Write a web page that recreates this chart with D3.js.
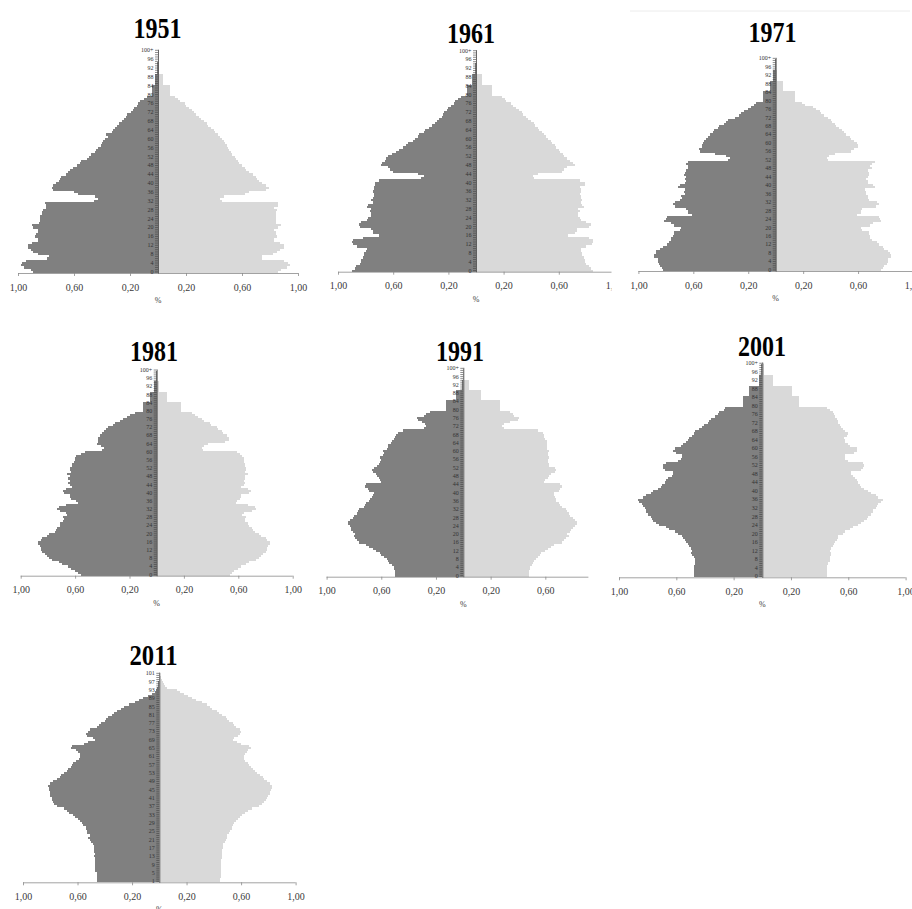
<!DOCTYPE html>
<html>
<head>
<meta charset="utf-8">
<script src="https://d3js.org/d3.v7.min.js"></script>
<style>
  body { margin: 0; background: #fff; }
  svg { display: block; }
</style>
</head>
<body>
<div id="chart"></div>
<script>
'use strict';

// age categories, 0..100+ (2011 uses 1..101)
var ages = d3.range(0, 101);
var ageLabels = ages.map(function(a) { return a === 100 ? '100+' : String(a); });
var ageLabels2011 = d3.range(1, 102).map(String);
var xTicks = [-1, -0.6, -0.2, 0.2, 0.6, 1];

// share of total population (%) per single year of age
var male1951 = [
  0.89,0.91,0.96,0.98,0.97,0.94,0.79,0.78,0.86,0.89,
  0.91,0.93,0.93,0.90,0.86,0.86,0.88,0.87,0.86,0.86,
  0.89,0.90,0.85,0.84,0.84,0.84,0.83,0.83,0.82,0.80,
  0.80,0.81,0.46,0.43,0.45,0.57,0.60,0.75,0.76,0.75,
  0.73,0.71,0.70,0.69,0.66,0.64,0.63,0.61,0.58,0.56,
  0.55,0.51,0.49,0.48,0.45,0.44,0.43,0.41,0.40,0.39,
  0.38,0.36,0.37,0.33,0.32,0.31,0.29,0.28,0.26,0.24,
  0.23,0.22,0.19,0.18,0.17,0.15,0.14,0.13,0.10,0.08,
  0.04,0.04,0.04,0.04,0.04,0.02,0.02,0.02,0.02,0.02,
  0.006,0.006,0.006,0.006,0.006,0.002,0.002,0.002,0.002,0.002,
  0.001];
var female1951 = [
  0.86,0.88,0.92,0.94,0.93,0.90,0.74,0.74,0.82,0.85,
  0.87,0.90,0.90,0.87,0.83,0.83,0.85,0.84,0.84,0.83,
  0.86,0.88,0.84,0.84,0.84,0.84,0.84,0.84,0.85,0.83,
  0.86,0.86,0.46,0.44,0.47,0.62,0.65,0.77,0.79,0.77,
  0.74,0.72,0.71,0.70,0.68,0.65,0.63,0.62,0.60,0.58,
  0.57,0.56,0.55,0.53,0.52,0.51,0.50,0.49,0.48,0.47,
  0.46,0.44,0.43,0.41,0.40,0.38,0.36,0.35,0.33,0.31,
  0.29,0.27,0.26,0.24,0.22,0.20,0.19,0.16,0.14,0.12,
  0.085,0.085,0.085,0.085,0.085,0.038,0.038,0.038,0.038,0.038,
  0.008,0.008,0.008,0.008,0.008,0.002,0.002,0.002,0.002,0.002,
  0.001];

var male1961 = [
  0.90,0.88,0.87,0.84,0.83,0.83,0.82,0.81,0.81,0.80,
  0.79,0.86,0.89,0.90,0.89,0.82,0.70,0.75,0.75,0.76,
  0.84,0.85,0.83,0.79,0.78,0.76,0.76,0.77,0.76,0.79,
  0.78,0.75,0.76,0.75,0.74,0.74,0.75,0.74,0.74,0.73,
  0.73,0.70,0.40,0.38,0.42,0.60,0.62,0.64,0.69,0.68,
  0.66,0.65,0.64,0.61,0.58,0.56,0.53,0.51,0.49,0.46,
  0.44,0.42,0.41,0.38,0.37,0.34,0.32,0.30,0.28,0.27,
  0.25,0.24,0.23,0.21,0.20,0.18,0.16,0.15,0.13,0.11,
  0.065,0.065,0.065,0.065,0.065,0.03,0.03,0.03,0.03,0.03,
  0.008,0.008,0.008,0.008,0.008,0.002,0.002,0.002,0.002,0.002,
  0.001];
var female1961 = [
  0.85,0.83,0.82,0.80,0.79,0.79,0.78,0.77,0.77,0.76,
  0.76,0.80,0.84,0.85,0.85,0.82,0.67,0.72,0.73,0.73,
  0.82,0.83,0.80,0.76,0.75,0.74,0.74,0.75,0.74,0.78,
  0.77,0.76,0.77,0.76,0.76,0.75,0.76,0.76,0.75,0.79,
  0.79,0.75,0.42,0.41,0.45,0.62,0.64,0.66,0.72,0.70,
  0.68,0.66,0.64,0.63,0.61,0.60,0.58,0.57,0.55,0.54,
  0.52,0.51,0.49,0.48,0.46,0.45,0.43,0.42,0.40,0.38,
  0.36,0.34,0.33,0.31,0.29,0.27,0.25,0.22,0.21,0.19,
  0.115,0.115,0.115,0.115,0.115,0.045,0.045,0.045,0.045,0.045,
  0.01,0.01,0.01,0.01,0.01,0.002,0.002,0.002,0.002,0.002,
  0.001];

var male1971 = [
  0.82,0.83,0.84,0.85,0.86,0.86,0.89,0.89,0.87,0.87,
  0.84,0.82,0.79,0.78,0.76,0.76,0.75,0.74,0.74,0.70,
  0.69,0.74,0.76,0.81,0.80,0.79,0.61,0.64,0.64,0.65,
  0.73,0.75,0.73,0.70,0.68,0.69,0.66,0.67,0.66,0.71,
  0.70,0.66,0.65,0.66,0.65,0.67,0.66,0.65,0.64,0.64,
  0.65,0.64,0.35,0.33,0.36,0.44,0.55,0.56,0.54,0.54,
  0.53,0.52,0.51,0.49,0.48,0.46,0.45,0.42,0.41,0.38,
  0.36,0.35,0.30,0.27,0.25,0.23,0.20,0.18,0.16,0.14,
  0.09,0.09,0.09,0.09,0.09,0.04,0.04,0.04,0.04,0.04,
  0.018,0.018,0.018,0.018,0.018,0.004,0.004,0.004,0.004,0.004,
  0.001];
var female1971 = [
  0.77,0.78,0.79,0.81,0.82,0.82,0.84,0.84,0.83,0.82,
  0.79,0.78,0.75,0.74,0.70,0.69,0.69,0.68,0.68,0.63,
  0.62,0.69,0.71,0.77,0.76,0.75,0.59,0.62,0.62,0.63,
  0.73,0.75,0.74,0.68,0.67,0.67,0.66,0.66,0.65,0.72,
  0.71,0.67,0.67,0.66,0.67,0.68,0.68,0.67,0.70,0.69,
  0.70,0.72,0.38,0.37,0.39,0.43,0.55,0.57,0.60,0.60,
  0.59,0.57,0.55,0.54,0.51,0.50,0.48,0.46,0.44,0.43,
  0.41,0.40,0.38,0.35,0.33,0.32,0.29,0.27,0.21,0.19,
  0.14,0.14,0.14,0.14,0.14,0.05,0.05,0.05,0.05,0.05,
  0.012,0.012,0.012,0.012,0.012,0.003,0.003,0.003,0.003,0.003,
  0.001];

var male1981 = [
  0.56,0.58,0.60,0.63,0.65,0.70,0.72,0.77,0.79,0.81,
  0.82,0.84,0.85,0.85,0.86,0.87,0.87,0.85,0.84,0.81,
  0.79,0.75,0.74,0.73,0.71,0.71,0.69,0.68,0.69,0.66,
  0.67,0.71,0.73,0.72,0.67,0.58,0.59,0.63,0.64,0.64,
  0.68,0.69,0.67,0.62,0.64,0.65,0.64,0.65,0.64,0.66,
  0.63,0.64,0.64,0.62,0.62,0.61,0.60,0.60,0.59,0.56,
  0.53,0.40,0.39,0.41,0.44,0.43,0.43,0.43,0.42,0.40,
  0.39,0.37,0.36,0.32,0.31,0.27,0.25,0.22,0.20,0.16,
  0.10,0.10,0.10,0.10,0.10,0.05,0.05,0.05,0.05,0.05,
  0.02,0.02,0.02,0.02,0.02,0.004,0.004,0.004,0.004,0.004,
  0.001];
var female1981 = [
  0.54,0.55,0.57,0.60,0.62,0.66,0.68,0.73,0.75,0.77,
  0.78,0.80,0.81,0.81,0.82,0.83,0.83,0.81,0.80,0.77,
  0.75,0.72,0.71,0.70,0.68,0.67,0.65,0.65,0.66,0.63,
  0.64,0.70,0.73,0.72,0.67,0.58,0.59,0.61,0.62,0.62,
  0.68,0.69,0.67,0.62,0.64,0.65,0.64,0.65,0.65,0.67,
  0.65,0.66,0.66,0.65,0.65,0.64,0.64,0.64,0.63,0.61,
  0.59,0.34,0.33,0.35,0.38,0.50,0.53,0.53,0.52,0.49,
  0.48,0.45,0.44,0.40,0.39,0.35,0.33,0.30,0.28,0.26,
  0.18,0.18,0.18,0.18,0.18,0.075,0.075,0.075,0.075,0.075,
  0.02,0.02,0.02,0.02,0.02,0.004,0.004,0.004,0.004,0.004,
  0.001];

var male1991 = [
  0.50,0.50,0.50,0.51,0.51,0.52,0.54,0.55,0.56,0.58,
  0.60,0.61,0.64,0.66,0.69,0.71,0.76,0.78,0.79,0.80,
  0.79,0.81,0.82,0.82,0.83,0.84,0.84,0.83,0.81,0.80,
  0.78,0.77,0.76,0.73,0.72,0.71,0.69,0.68,0.67,0.66,
  0.65,0.69,0.70,0.72,0.71,0.60,0.61,0.62,0.63,0.64,
  0.66,0.67,0.65,0.63,0.62,0.61,0.60,0.61,0.59,0.58,
  0.59,0.56,0.55,0.55,0.53,0.52,0.51,0.50,0.49,0.48,
  0.44,0.29,0.27,0.28,0.30,0.33,0.34,0.29,0.27,0.24,
  0.13,0.13,0.13,0.13,0.13,0.05,0.05,0.05,0.05,0.05,
  0.012,0.012,0.012,0.012,0.012,0.003,0.003,0.003,0.003,0.003,
  0.001];
var female1991 = [
  0.48,0.48,0.48,0.49,0.49,0.50,0.51,0.52,0.53,0.55,
  0.56,0.57,0.60,0.62,0.64,0.66,0.72,0.74,0.75,0.77,
  0.76,0.78,0.79,0.80,0.82,0.83,0.83,0.82,0.80,0.78,
  0.77,0.76,0.75,0.72,0.71,0.70,0.68,0.68,0.67,0.66,
  0.66,0.70,0.71,0.72,0.71,0.59,0.60,0.62,0.63,0.64,
  0.67,0.68,0.67,0.63,0.63,0.62,0.62,0.63,0.62,0.62,
  0.63,0.61,0.61,0.61,0.61,0.61,0.60,0.59,0.59,0.58,
  0.55,0.30,0.28,0.30,0.34,0.40,0.41,0.37,0.36,0.34,
  0.27,0.27,0.27,0.27,0.27,0.13,0.13,0.13,0.13,0.13,
  0.04,0.04,0.04,0.04,0.04,0.006,0.006,0.006,0.006,0.006,
  0.001];

var male2001 = [
  0.48,0.48,0.48,0.48,0.48,0.48,0.47,0.47,0.47,0.48,
  0.49,0.50,0.49,0.50,0.51,0.52,0.53,0.54,0.55,0.56,
  0.59,0.61,0.65,0.67,0.72,0.74,0.76,0.77,0.78,0.80,
  0.81,0.81,0.82,0.83,0.84,0.86,0.87,0.83,0.81,0.78,
  0.76,0.73,0.71,0.70,0.68,0.67,0.66,0.63,0.62,0.62,
  0.68,0.69,0.69,0.67,0.59,0.57,0.56,0.56,0.60,0.62,
  0.61,0.57,0.55,0.53,0.52,0.51,0.49,0.48,0.47,0.44,
  0.42,0.41,0.38,0.37,0.36,0.33,0.31,0.30,0.27,0.26,
  0.137,0.137,0.137,0.137,0.137,0.095,0.095,0.095,0.095,0.095,
  0.023,0.023,0.023,0.023,0.023,0.008,0.008,0.008,0.008,0.008,
  0.002];
var female2001 = [
  0.45,0.45,0.45,0.45,0.45,0.45,0.46,0.47,0.47,0.47,
  0.48,0.48,0.47,0.48,0.49,0.50,0.51,0.52,0.53,0.53,
  0.56,0.58,0.61,0.63,0.67,0.69,0.71,0.73,0.74,0.76,
  0.77,0.77,0.79,0.80,0.81,0.83,0.84,0.81,0.79,0.76,
  0.74,0.71,0.69,0.68,0.67,0.66,0.65,0.63,0.62,0.62,
  0.69,0.70,0.71,0.70,0.60,0.58,0.58,0.58,0.64,0.66,
  0.66,0.61,0.60,0.58,0.58,0.57,0.59,0.60,0.58,0.56,
  0.55,0.54,0.53,0.53,0.52,0.51,0.50,0.49,0.47,0.45,
  0.256,0.256,0.256,0.256,0.256,0.205,0.205,0.205,0.205,0.205,
  0.074,0.074,0.074,0.074,0.074,0.012,0.012,0.012,0.012,0.012,
  0.003];

var male2011 = [
  0.46,0.46,0.46,0.46,0.46,0.47,0.47,0.47,0.47,0.47,
  0.47,0.47,0.48,0.47,0.48,0.48,0.48,0.48,0.49,0.50,
  0.51,0.52,0.51,0.53,0.53,0.54,0.54,0.56,0.57,0.58,
  0.60,0.62,0.63,0.66,0.68,0.70,0.75,0.77,0.78,0.79,
  0.79,0.80,0.80,0.80,0.81,0.81,0.82,0.80,0.78,0.75,
  0.73,0.72,0.70,0.68,0.67,0.65,0.64,0.63,0.61,0.59,
  0.58,0.58,0.60,0.61,0.65,0.64,0.55,0.52,0.47,0.49,
  0.53,0.54,0.52,0.51,0.46,0.44,0.43,0.40,0.39,0.38,
  0.35,0.33,0.31,0.28,0.26,0.22,0.18,0.15,0.12,0.08,
  0.05,0.035,0.025,0.018,0.012,0.008,0.006,0.004,0.003,0.002,
  0.001];
var female2011 = [
  0.445,0.445,0.45,0.45,0.45,0.45,0.45,0.455,0.455,0.455,
  0.455,0.46,0.46,0.46,0.46,0.46,0.465,0.47,0.47,0.48,
  0.49,0.50,0.50,0.51,0.52,0.53,0.53,0.54,0.55,0.56,
  0.58,0.59,0.61,0.63,0.65,0.68,0.73,0.75,0.77,0.78,
  0.79,0.80,0.81,0.81,0.82,0.83,0.83,0.81,0.79,0.77,
  0.76,0.74,0.72,0.70,0.69,0.67,0.66,0.65,0.63,0.62,
  0.62,0.63,0.64,0.65,0.67,0.66,0.60,0.57,0.54,0.55,
  0.58,0.59,0.60,0.59,0.56,0.55,0.54,0.51,0.50,0.49,
  0.46,0.44,0.42,0.39,0.37,0.35,0.31,0.27,0.24,0.21,
  0.18,0.15,0.13,0.06,0.045,0.035,0.025,0.018,0.012,0.008,
  0.005];

// panel layout (pixel positions of each small pyramid)
var panels = [
  { title: '1951', cats: ageLabels, male: male1951, female: female1951,
    cx: 158, k: 140, top: 49.2, bottom: 273, xMax: 1, titleX: 157.5, titleY: 38 },
  { title: '1961', cats: ageLabels, male: male1961, female: female1961,
    cx: 476, k: 138, top: 49.6, bottom: 271.7, xMax: 1, titleX: 471, titleY: 42.5, clipRight: 611.5 },
  { title: '1971', cats: ageLabels, male: male1971, female: female1971,
    cx: 775.7, k: 137.3, top: 57.3, bottom: 271, xMax: 1, titleX: 772.5, titleY: 41.5 },
  { title: '1981', cats: ageLabels, male: male1981, female: female1981,
    cx: 156.7, k: 136, top: 369, bottom: 575.7, xMax: 1, titleX: 154, titleY: 361 },
  { title: '1991', cats: ageLabels, male: male1991, female: female1991,
    cx: 463.3, k: 136.7, top: 367.3, bottom: 576.7, xMax: 0.915, titleX: 460, titleY: 361 },
  { title: '2001', cats: ageLabels, male: male2001, female: female2001,
    cx: 762.3, k: 143.3, top: 362.2, bottom: 577.3, xMax: 1, titleX: 762, titleY: 356 },
  { title: '2011', cats: ageLabels2011, male: male2011, female: female2011,
    cx: 159.3, k: 136.3, top: 672.3, bottom: 882.3, xMax: 1, titleX: 153.5, titleY: 664.5 }
];

var width = 912, height = 909;
var serif = "'Liberation Serif', 'Times New Roman', serif";
var maleColor = '#808080', femaleColor = '#d9d9d9';
var fmt = function(d) { return d3.format('.2f')(Math.abs(d)).replace('.', ','); };

var svg = d3.select('#chart').append('svg')
  .attr('width', width).attr('height', height);

svg.append('rect').attr('width', width).attr('height', height).attr('fill', '#fff');

// faint frame edge visible above the 1971 panel
svg.append('line').attr('x1', 630).attr('x2', 910).attr('y1', 11).attr('y2', 11)
  .attr('stroke', '#ececec').attr('stroke-width', 1);

var defs = svg.append('defs');

panels.forEach(function(p, pi) {
  var g = svg.append('g');

  if (p.clipRight) {
    defs.append('clipPath').attr('id', 'clip' + pi)
      .append('rect').attr('x', p.cx - p.k - 20).attr('y', 0)
      .attr('width', p.clipRight - (p.cx - p.k - 20)).attr('height', 330);
    g.attr('clip-path', 'url(#clip' + pi + ')');
  }

  var x = d3.scaleLinear().domain([-1, 1]).range([p.cx - p.k, p.cx + p.k]);
  var y = d3.scaleBand().domain(p.cats).range([p.bottom, p.top]).padding(0);
  var bw = y.bandwidth();
  // snap each row to whole pixels so neighbouring rows tile without seams
  var rowTop = function(i) { return Math.round(y(p.cats[i])); };
  var rowH = function(i) { return Math.round(y(p.cats[i]) + bw) - rowTop(i); };

  // male bars (left)
  g.append('g').attr('shape-rendering', 'crispEdges')
    .selectAll('rect').data(p.male).enter().append('rect')
    .attr('x', function(d) { return x(-d); })
    .attr('width', function(d) { return x(0) - x(-d); })
    .attr('y', function(d, i) { return rowTop(i); })
    .attr('height', function(d, i) { return rowH(i); })
    .attr('fill', maleColor);

  // female bars (right)
  g.append('g').attr('shape-rendering', 'crispEdges')
    .selectAll('rect').data(p.female).enter().append('rect')
    .attr('x', x(0))
    .attr('width', function(d) { return x(d) - x(0); })
    .attr('y', function(d, i) { return rowTop(i); })
    .attr('height', function(d, i) { return rowH(i); })
    .attr('fill', femaleColor);

  // x axis
  var xAxis = d3.axisBottom(x)
    .tickValues(xTicks.filter(function(t) { return t <= p.xMax + 1e-9; }))
    .tickSize(3).tickPadding(7.5).tickSizeOuter(0).tickFormat(fmt);
  var ax = g.append('g').attr('transform', 'translate(0,' + p.bottom + ')').call(xAxis);
  ax.select('.domain').attr('d', 'M' + x(-1) + ',0.5H' + x(p.xMax));
  ax.selectAll('.domain, line').attr('stroke', '#8a8a8a').attr('stroke-width', 0.8);
  ax.selectAll('text').attr('font-family', serif).attr('font-size', 10).attr('fill', '#3a3a3a');

  // y axis on the centre line, one tick per age
  var yAxis = d3.axisLeft(y).tickSize(3).tickPadding(1.5).tickSizeOuter(0)
    .tickFormat(function(d, i) { return i % 4 === 0 ? d : ''; });
  var ay = g.append('g').attr('transform', 'translate(' + x(0) + ',0)').call(yAxis);
  ay.selectAll('.domain').attr('stroke', '#404040').attr('stroke-width', 0.8);
  ay.selectAll('line').attr('stroke', '#404040').attr('stroke-width', 0.6);
  ay.selectAll('text').attr('font-family', serif).attr('font-size', 6).attr('fill', '#333');

  // title
  svg.append('text')
    .attr('x', p.titleX).attr('y', p.titleY)
    .attr('text-anchor', 'middle')
    .attr('font-family', serif).attr('font-weight', 'bold').attr('font-size', 29)
    .attr('textLength', 48).attr('lengthAdjust', 'spacingAndGlyphs')
    .attr('fill', '#000')
    .text(p.title);

  // axis unit
  g.append('text')
    .attr('x', x(0)).attr('y', p.bottom + 30)
    .attr('text-anchor', 'middle')
    .attr('font-family', serif).attr('font-size', 8).attr('fill', '#3a3a3a')
    .text('%');
});
</script>
</body>
</html>
